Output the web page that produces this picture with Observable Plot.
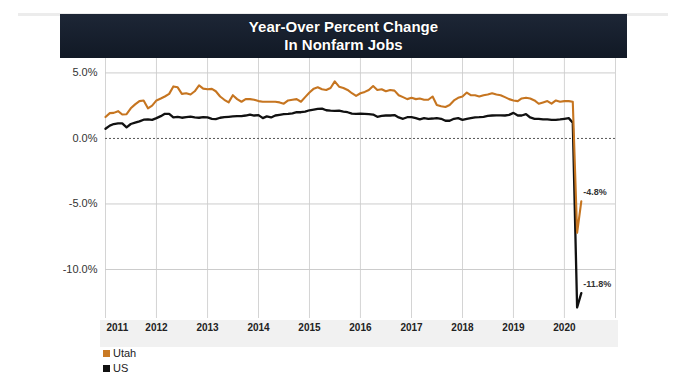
<!DOCTYPE html>
<html><head><meta charset="utf-8">
<script src="https://cdn.jsdelivr.net/npm/d3@7"></script>
<script src="https://cdn.jsdelivr.net/npm/@observablehq/plot@0.6"></script>
<style>
body{margin:0;background:#fff;width:688px;height:382px;position:relative;overflow:hidden;font-family:"Liberation Sans",Arial,sans-serif}
#topline{position:absolute;left:18px;top:13px;width:650px;height:3px;background:#ececec}
#title{position:absolute;left:60px;top:14px;width:567px;height:44px;background:linear-gradient(#1d2636,#111925);color:#fff;font-weight:bold;font-size:15px;line-height:18px;text-align:center;padding-top:4px;box-sizing:border-box;text-shadow:0 0 1px #000}
#band{position:absolute;left:100px;top:320px;width:518px;height:27px;background:#f1f1f1}
#chart{position:absolute;left:0;top:58px}
#legend{position:absolute;left:103px;top:346px;font-size:11px;color:#222;line-height:15px}
.sw{display:inline-block;width:7px;height:7px;margin-right:3px}
</style></head>
<body>
<div id="topline"></div>
<div id="title">Year-Over Percent Change<br>In Nonfarm Jobs</div>
<div id="band"></div>
<div id="chart"></div>
<div id="legend">
<div><span class="sw" style="background:#c97a24"></span>Utah</div>
<div><span class="sw" style="background:#111"></span>US</div>
</div>
<script>
// Monthly, Jan 2011 .. May 2020
const startMonth = "2011-01";
const utah = [
1.63,1.93,1.95,2.08,1.83,1.85,2.3,2.6,2.85,2.9,2.3,2.5,
2.9,3.05,3.2,3.4,3.97,3.9,3.4,3.45,3.35,3.6,4.05,3.8,
3.75,3.78,3.6,3.2,2.95,2.75,3.3,3.0,2.8,3.0,3.0,2.95,
2.85,2.8,2.8,2.8,2.8,2.75,2.65,2.9,2.95,3.0,2.8,3.15,
3.5,3.8,3.9,3.75,3.7,3.85,4.35,3.95,3.85,3.7,3.45,3.25,
3.45,3.55,3.7,4.0,3.7,3.75,3.6,3.7,3.65,3.3,3.15,3.0,
3.1,3.0,3.05,2.95,2.95,3.2,2.55,2.45,2.4,2.55,2.9,3.1,
3.2,3.5,3.3,3.3,3.2,3.3,3.35,3.45,3.35,3.3,3.15,3.0,
2.9,2.85,3.05,3.1,3.05,2.9,2.65,2.75,2.85,2.65,2.9,2.8,
2.85,2.85,2.8,-7.2,-4.8
];
const us = [
0.74,0.98,1.1,1.15,1.15,0.85,1.1,1.2,1.3,1.43,1.45,1.42,
1.55,1.7,1.88,1.88,1.6,1.65,1.58,1.62,1.66,1.6,1.58,1.62,
1.6,1.5,1.48,1.58,1.62,1.65,1.68,1.7,1.7,1.75,1.82,1.75,
1.78,1.55,1.68,1.6,1.75,1.8,1.85,1.88,1.92,2.0,2.0,2.05,
2.15,2.2,2.25,2.27,2.15,2.12,2.1,2.12,2.05,2.0,1.9,1.88,
1.9,1.88,1.85,1.82,1.65,1.72,1.75,1.75,1.78,1.6,1.5,1.62,
1.62,1.55,1.45,1.55,1.5,1.52,1.55,1.5,1.35,1.35,1.5,1.55,
1.42,1.5,1.55,1.6,1.62,1.65,1.72,1.75,1.76,1.76,1.75,1.8,
1.95,1.75,1.75,1.85,1.6,1.5,1.5,1.45,1.45,1.42,1.42,1.45,
1.5,1.55,1.2,-12.9,-11.8
];
const years = [2011,2012,2013,2014,2015,2016,2017,2018,2019,2020];
const gridYears = [2011,2012,2013,2014,2015,2016,2017,2018,2019,2020,2021];
const yTicks = [5,0,-5,-10];
const endLabels = [{series:"Utah", value:-4.8, text:"-4.8%"},{series:"US", value:-11.8, text:"-11.8%"}];
const colors = {Utah:"#c67520", US:"#111111"};

const t0 = new Date(startMonth + "-01T00:00:00Z");
const dateAt = i => new Date(Date.UTC(t0.getUTCFullYear(), t0.getUTCMonth() + i, 1));
const rows = [];
utah.forEach((v,i)=>rows.push({series:"Utah", date:dateAt(i), value:v}));
us.forEach((v,i)=>rows.push({series:"US", date:dateAt(i), value:v}));
const lastDate = dateAt(utah.length - 1);
const yd = y => new Date(Date.UTC(y,0,1));

const chart = Plot.plot({
  width: 688, height: 292,
  marginLeft: 105, marginRight: 73, marginTop: 0, marginBottom: 32,
  style: {background: "transparent", fontFamily: "Liberation Sans, Arial, sans-serif"},
  x: {type: "utc", domain: [yd(2011), yd(2021)], axis: null},
  y: {domain: [-13.74, 6.1], axis: null},
  marks: [
    Plot.ruleX(gridYears, {x: yd, stroke: "#d4d4d4", strokeWidth: 1}),
    Plot.ruleY(yTicks.filter(d=>d!==0), {stroke: "#cccccc", strokeWidth: 1}),
    Plot.ruleY([0], {stroke: "#555", strokeWidth: 1, strokeDasharray: "2,2"}),
    Plot.axisY(yTicks, {tickSize: 0, tickPadding: 8, tickFormat: d => d.toFixed(1) + "%", fontSize: 11, fill: "#333", label: null}),
    Plot.text(years.slice(0,1), {x: yd, text: d => String(d), frameAnchor: "bottom", dy: 12, textAnchor: "start", dx: 1, fontSize: 10, fontWeight: "bold", fill: "#222"}),
    Plot.text(years.slice(1), {x: yd, text: d => String(d), frameAnchor: "bottom", dy: 12, fontSize: 10, fontWeight: "bold", fill: "#222"}),
    Plot.line(rows.filter(d=>d.series==="US"), {x: "date", y: "value", stroke: colors.US, strokeWidth: 2.3}),
    Plot.line(rows.filter(d=>d.series==="Utah"), {x: "date", y: "value", stroke: colors.Utah, strokeWidth: 2.1}),
    Plot.text(endLabels, {x: () => lastDate, y: "value", text: "text", dy: -9, dx: 2, textAnchor: "start", fontSize: 9, fontWeight: "bold", fill: "#333"})
  ]
});
document.getElementById("chart").appendChild(chart);
</script>
</body></html>
